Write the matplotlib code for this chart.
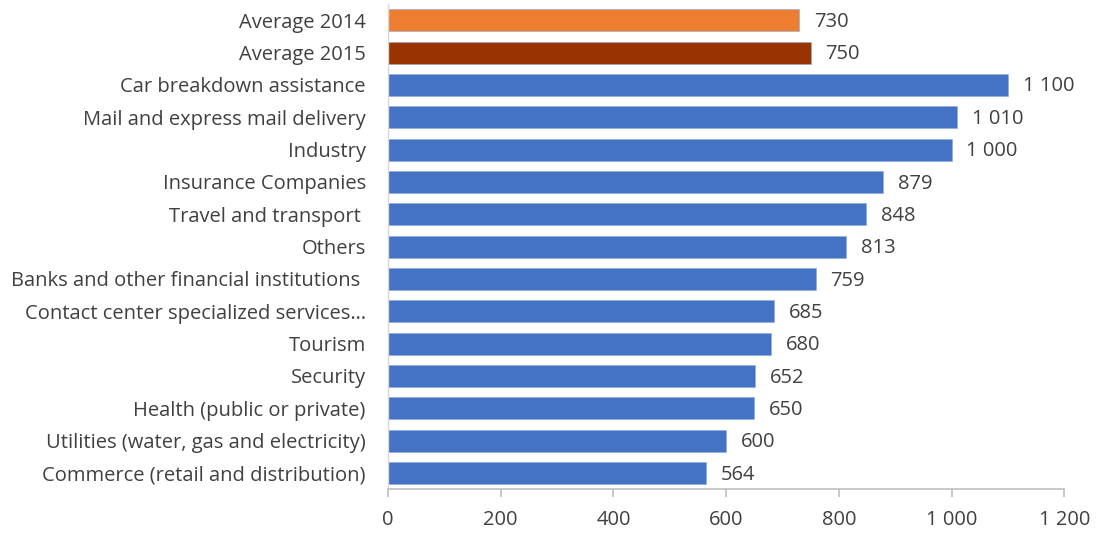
import matplotlib
matplotlib.use("Agg")
from matplotlib import pyplot as plt

# Sector labels, top to bottom
sectors = [
	"Average 2014",
	"Average 2015",
	"Car breakdown assistance",
	"Mail and express mail delivery",
	"Industry",
	"Insurance Companies",
	"Travel and transport ",
	"Others",
	"Banks and other financial institutions ",
	"Contact center specialized services\u2026",
	"Tourism",
	"Security",
	"Health (public or private)",
	"Utilities (water, gas and electricity)",
	"Commerce (retail and distribution)",
]
values = [730, 750, 1100, 1010, 1000, 879, 848, 813, 759, 685, 680, 652, 650, 600, 564]
xticks = [0, 200, 400, 600, 800, 1000, 1200]

def fmt(v):
	# thousands separated by a space
	return "{:,}".format(v).replace(",", " ")

colors = ["#ED7D31", "#993300"] + ["#4472C4"] * (len(values) - 2)
txt = "#404040"
fs = 14.5

plt.rcParams["font.family"] = ["Open Sans", "DejaVu Sans"]

fig = plt.figure(figsize=(10.96, 5.34), dpi=100)
ax = fig.add_axes([0.354, 0.084, 0.617, 0.9085])

pos = list(range(len(values)))
ax.barh(pos, values, height=0.68, color=colors, edgecolor="#8FAADC", linewidth=0.4)
ax.set_ylim(len(values) - 0.5, -0.5)
ax.set_xlim(0, 1200)

for p, v in zip(pos, values):
	ax.text(v + 26, p + 0.05, fmt(v), va="center", ha="left", fontsize=fs, color=txt)

ax.set_yticks(pos)
ax.set_yticklabels(sectors, fontsize=fs, color=txt)
ax.tick_params(axis="y", length=0, pad=16)
ax.set_xticks(xticks)
ax.set_xticklabels([fmt(t) for t in xticks], fontsize=fs, color=txt)
ax.tick_params(axis="x", length=6, width=1.2, color="#BFBFBF", pad=9)

for s in ["top", "right"]:
	ax.spines[s].set_visible(False)
ax.spines["bottom"].set_color("#BFBFBF")
ax.spines["bottom"].set_linewidth(1.2)
ax.spines["left"].set_color("#D9D9D9")
ax.spines["left"].set_linewidth(1.0)

fig.savefig("out.png", dpi=100)
